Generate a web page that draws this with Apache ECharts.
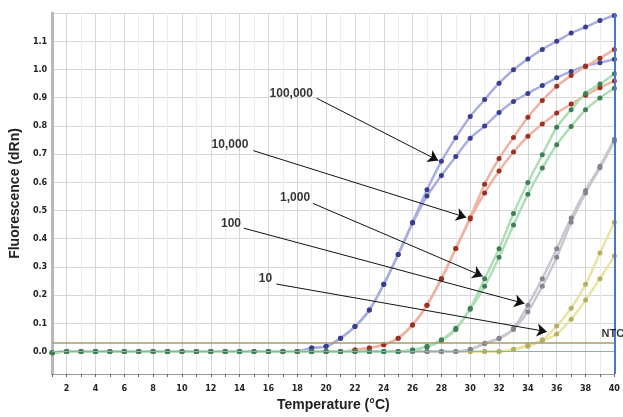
<!DOCTYPE html>
<html>
<head>
<meta charset="utf-8">
<script src="https://cdn.jsdelivr.net/npm/echarts@6/dist/echarts.min.js"></script>
<style>
html,body{margin:0;padding:0;background:#fff;}
#chart{width:623px;height:417px;}
</style>
</head>
<body>
<div id="chart"></div>
<script>
// ---- data ----
const cycles = [1,2,3,4,5,6,7,8,9,10,11,12,13,14,15,16,17,18,19,20,21,22,23,24,25,26,27,28,29,30,31,32,33,34,35,36,37,38,39,40];
const xTickLabels = [2,4,6,8,10,12,14,16,18,20,22,24,26,28,30,32,34,36,38,40];
const yTickLabels = [0.0,0.1,0.2,0.3,0.4,0.5,0.6,0.7,0.8,0.9,1.0,1.1];

const blueA = [-0.005,0,0,0,0,0,0,0,0,0, 0,0,0,0,0,0,0,0,0.012,0.018, 0.047,0.088,0.147,0.238,0.344,0.458,0.573,0.674,0.758,0.833, 0.893,0.951,0.999,1.037,1.071,1.100,1.129,1.150,1.173,1.191];
const blueB = [-0.005,0,0,0,0,0,0,0,0,0, 0,0,0,0,0,0,0,0,0.012,0.018, 0.047,0.088,0.147,0.238,0.344,0.455,0.551,0.624,0.691,0.756, 0.799,0.847,0.886,0.915,0.943,0.970,0.993,1.012,1.024,1.036];
const redA  = [-0.005,0,0,0,0,0,0,0,0,0, 0,0,0,0,0,0,0,0,0,0, 0,0.005,0.012,0.024,0.047,0.094,0.164,0.258,0.365,0.474, 0.593,0.684,0.759,0.830,0.890,0.940,0.978,1.010,1.040,1.071];
const redB  = [-0.005,0,0,0,0,0,0,0,0,0, 0,0,0,0,0,0,0,0,0,0, 0,0.005,0.012,0.024,0.047,0.094,0.164,0.258,0.365,0.470, 0.562,0.640,0.707,0.763,0.806,0.845,0.877,0.908,0.935,0.959];
const greenA = [-0.005,0,0,0,0,0,0,0,0,0, 0,0,0,0,0,0,0,0,0,0, 0,0,0,0,0,0.005,0.018,0.041,0.082,0.153, 0.258,0.364,0.489,0.599,0.697,0.795,0.857,0.915,0.948,0.985];
const greenB = [-0.005,0,0,0,0,0,0,0,0,0, 0,0,0,0,0,0,0,0,0,0, 0,0,0,0,0,0.005,0.016,0.038,0.078,0.150, 0.231,0.334,0.448,0.557,0.650,0.733,0.798,0.857,0.899,0.933];
const greyA = [-0.005,0,0,0,0,0,0,0,0,0, 0,0,0,0,0,0,0,0,0,0, 0,0,0,0,0,0,0,0,0,0.008, 0.029,0.047,0.082,0.164,0.258,0.364,0.473,0.571,0.657,0.752];
const greyB = [-0.005,0,0,0,0,0,0,0,0,0, 0,0,0,0,0,0,0,0,0,0, 0,0,0,0,0,0,0,0,0,0.006, 0.027,0.045,0.078,0.141,0.231,0.334,0.458,0.562,0.651,0.745];
const yellowA = [-0.005,0,0,0,0,0,0,0,0,0, 0,0,0,0,0,0,0,0,0,0, 0,0,0,0,0,0,0,0,0,0, 0,0,0.008,0.022,0.041,0.090,0.153,0.238,0.349,0.458];
const yellowB = [-0.005,0,0,0,0,0,0,0,0,0, 0,0,0,0,0,0,0,0,0,0, 0,0,0,0,0,0,0,0,0,0, 0,0,0.006,0.018,0.038,0.062,0.114,0.182,0.258,0.338];

const dilutionNames = ['100,000','10,000','1,000','100','10'];
const ntcThreshold = 0.03;
const baselineValue = 0.0;

// annotation anchors (data space): label centre, arrow start, arrow tip
const annLabelAt = [[17.58,0.915],[13.33,0.733],[17.85,0.546],[13.4,0.454],[15.79,0.258]];
const annFrom = [[19.34,0.898],[14.95,0.712],[19.08,0.525],[14.29,0.437],[16.55,0.239]];
const annTo   = [[27.78,0.677],[29.72,0.475],[30.86,0.267],[33.76,0.170],[35.32,0.070]];
const ntcLabelAt = [39.08,0.063];

// ---- build ----
const replicateSets = {
  blue:   {name:dilutionNames[0], reps:[blueA, blueB],     line:'#a9addf', mark:'#383e8e'},
  red:    {name:dilutionNames[1], reps:[redA, redB],       line:'#efb3a3', mark:'#9a3122'},
  green:  {name:dilutionNames[2], reps:[greenA, greenB],   line:'#addfb5', mark:'#3f7f55'},
  grey:   {name:dilutionNames[3], reps:[greyA, greyB],     line:'#c7c7cf', mark:'#85858f'},
  yellow: {name:dilutionNames[4], reps:[yellowA, yellowB], line:'#e8e4a4', mark:'#b6ae60'}
};
const drawOrder = ['blue','red','yellow','grey','green'];

const series = [];
drawOrder.forEach((key, oi) => {
  const s = replicateSets[key];
  s.reps.forEach((vals, r) => {
    series.push({
      type: 'line',
      name: s.name + ' #' + (r + 1),
      data: cycles.map((c, k) => [c, vals[k]]),
      smooth: 0.3,
      symbol: 'circle',
      symbolSize: 5,
      showSymbol: true,
      lineStyle: {color: s.line, width: 2.5},
      itemStyle: {color: s.mark},
      emphasis: {disabled: true},
      z: 3
    });
  });
});

// threshold / reference lines
series.push({
  type: 'line', data: [], silent: true,
  markLine: {
    silent: true, symbol: ['none','none'], label: {show: false},
    data: [
      {yAxis: ntcThreshold, lineStyle: {color: '#a49c6c', width: 1.6, type: 'solid'}},
      {yAxis: baselineValue, lineStyle: {color: '#8fb0a6', width: 1.2, type: 'solid'}},
      {xAxis: cycles[cycles.length - 1], lineStyle: {color: '#4a78c0', width: 2, type: 'solid'}}
    ]
  },
  z: 2
});

// annotation arrows
series.push({
  type: 'line', data: [], silent: true,
  markLine: {
    silent: true, symbol: ['none','arrow'], symbolSize: 10,
    label: {show: false},
    lineStyle: {color: '#111', width: 1, type: 'solid'},
    itemStyle: {color: '#111'},
    data: annFrom.map((p, i) => [{coord: p}, {coord: annTo[i]}])
  },
  z: 10
});

// annotation labels
series.push({
  type: 'scatter', silent: true, symbolSize: 1,
  itemStyle: {color: 'rgba(0,0,0,0)'},
  data: annLabelAt.map((p, i) => ({value: [p[0], p[1]], name: dilutionNames[i]})),
  label: {show: true, position: 'inside', formatter: '{b}', color: '#000',
          fontSize: 12, fontWeight: 'bold', fontFamily: 'Liberation Sans, Arial, sans-serif'},
  z: 11
});
series.push({
  type: 'scatter', silent: true, symbolSize: 1,
  itemStyle: {color: 'rgba(0,0,0,0)'},
  data: [{value: ntcLabelAt, name: 'NTC'}],
  label: {show: true, position: 'right', distance: 0, formatter: '{b}', color: '#000',
          fontSize: 11, fontWeight: 'bold', fontFamily: 'Liberation Sans, Arial, sans-serif'},
  z: 11
});

const tickFont = "'Liberation Sans Narrow', 'DejaVu Sans Condensed', 'Liberation Sans', sans-serif";

const option = {
  animation: false,
  backgroundColor: '#ffffff',
  grid: {left: 49, right: 5, top: 13, bottom: 38, containLabel: false},
  xAxis: {
    type: 'value', min: 1, max: 40, interval: 1,
    name: 'Temperature (°C)', nameLocation: 'middle', nameGap: 24,
    nameTextStyle: {fontSize: 14, fontWeight: 'bold', color: '#222', fontFamily: 'Liberation Sans, Arial, sans-serif'},
    axisLine: {onZero: false, lineStyle: {color: '#999', width: 1}},
    axisTick: {show: true, length: 3, lineStyle: {color: '#666'}},
    axisLabel: {
      margin: 10, fontSize: 9, fontWeight: 'bold', color: '#222', fontFamily: tickFont,
      formatter: v => (xTickLabels.indexOf(v) >= 0 ? String(v) : '')
    },
    splitLine: {show: true, lineStyle: {color: ['#ededed', '#d6d6d6'], width: 1}}
  },
  yAxis: {
    type: 'value', min: -0.08, max: 1.2, interval: 0.02,
    name: 'Fluorescence (dRn)', nameLocation: 'middle', nameGap: 27, nameRotate: 90,
    nameTextStyle: {fontSize: 14, fontWeight: 'bold', color: '#222', fontFamily: 'Liberation Sans, Arial, sans-serif'},
    axisLine: {show: true, onZero: false, lineStyle: {color: '#b8b8b8', width: 3}},
    axisTick: {show: false},
    axisLabel: {
      margin: 5, fontSize: 9, fontWeight: 'bold', color: '#222', fontFamily: tickFont,
      formatter: v => {
        const hit = yTickLabels.find(t => Math.abs(t - v) < 1e-6);
        return hit === undefined ? '' : hit.toFixed(1);
      }
    },
    splitLine: {show: true, lineStyle: {color: ['rgba(0,0,0,0)','rgba(0,0,0,0)','rgba(0,0,0,0)','rgba(0,0,0,0)','#d6d6d6'], width: 1}}
  },
  series: series
};

const chart = echarts.init(document.getElementById('chart'), null, {renderer: 'canvas'});
chart.setOption(option);
</script>
</body>
</html>
